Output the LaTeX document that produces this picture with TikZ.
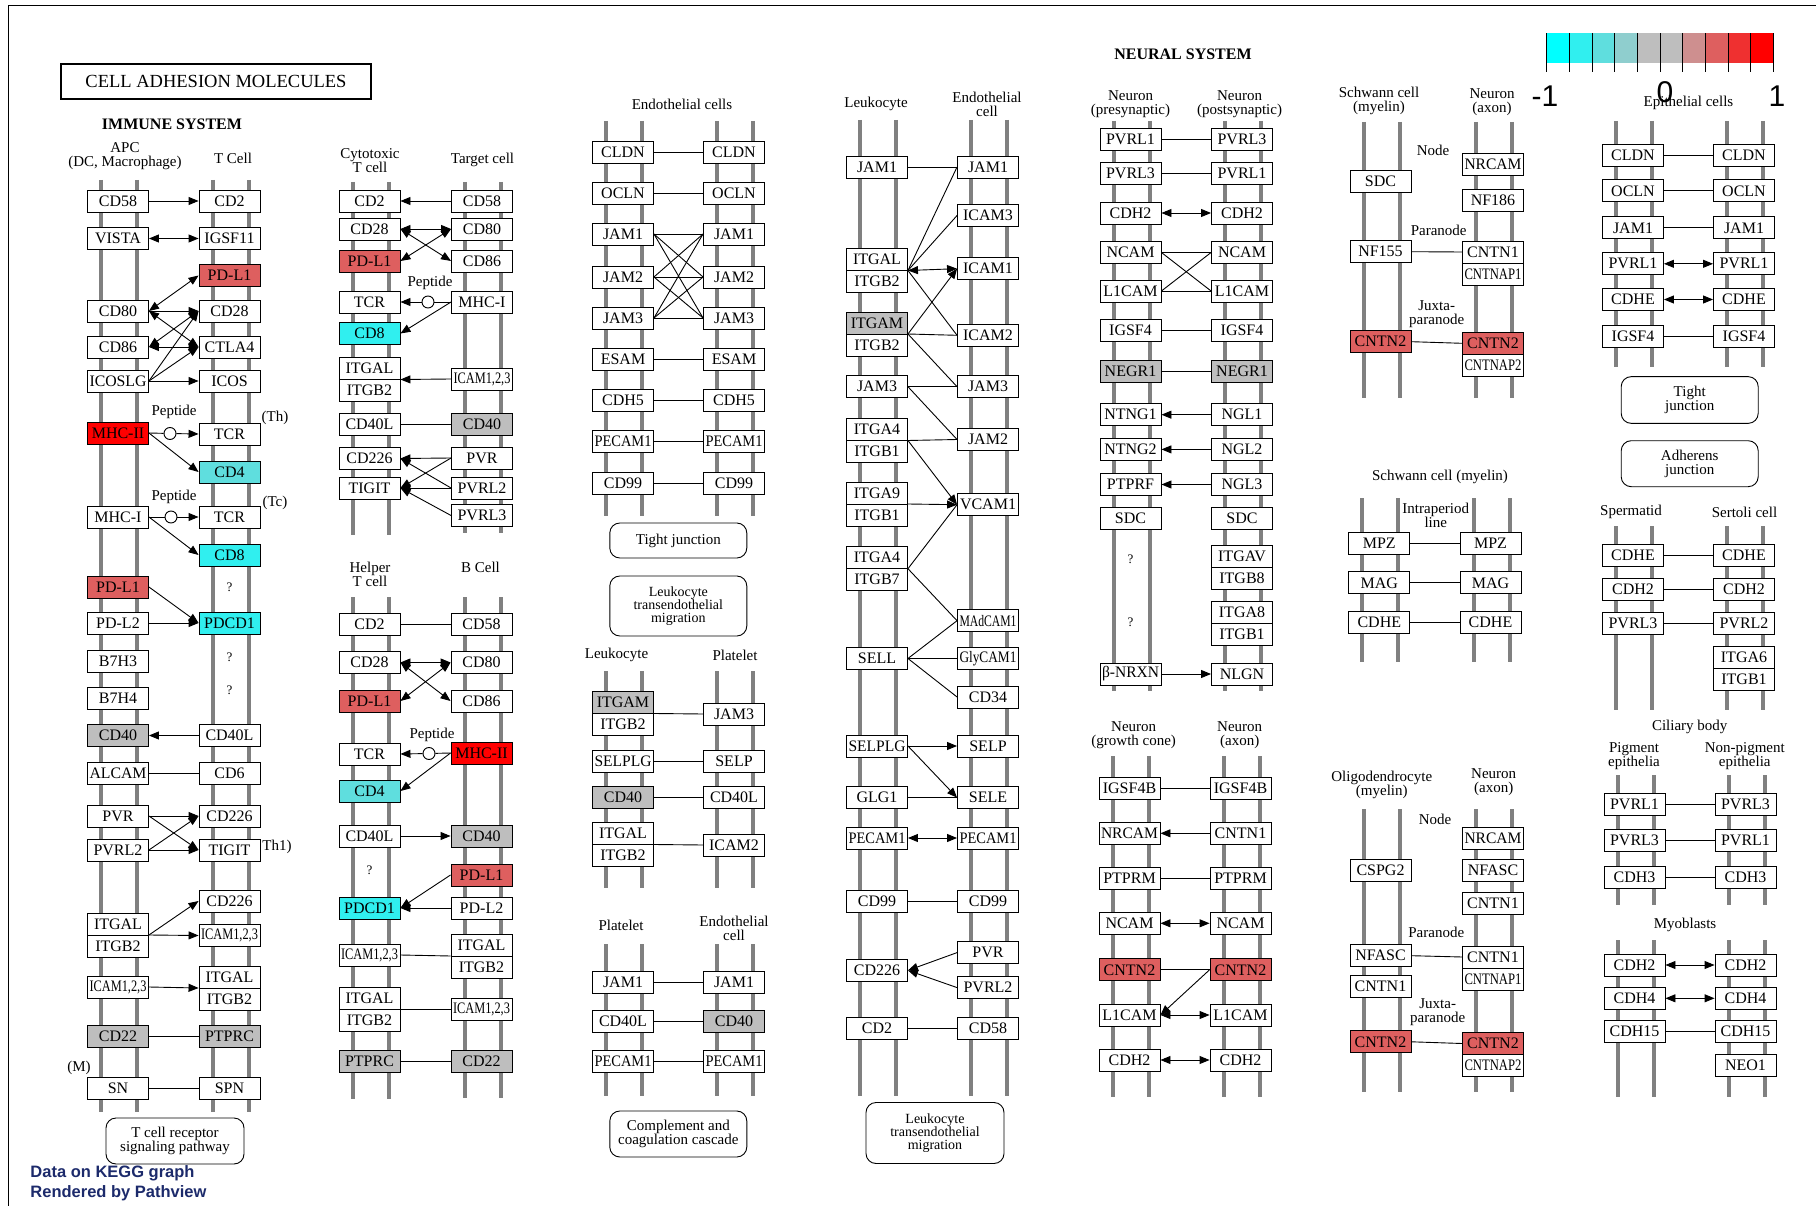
\documentclass[tikz,border=0pt]{standalone}
\usepackage{graphicx}
\usepackage{fontspec}
\setmainfont{Liberation Serif}
\newfontfamily\sansfam{Liberation Sans}
\usetikzlibrary{arrows.meta}

\definecolor{up1}{HTML}{FF0000}
\definecolor{up2}{HTML}{DE5F5F}
\definecolor{up3}{HTML}{EF3030}
\definecolor{up4}{HTML}{CE8F8F}
\definecolor{dn0}{HTML}{00FFFF}
\definecolor{dn1}{HTML}{30EFEF}
\definecolor{dn2}{HTML}{5FDEDE}
\definecolor{dn3}{HTML}{8FCECE}
\definecolor{nd}{HTML}{BEBEBE}
\definecolor{membr}{HTML}{808080}
\definecolor{navy}{HTML}{1C2A6B}

\newsavebox\gbox
\newcommand\gtext[1]{\sbox\gbox{#1}\ifdim\wd\gbox>57pt \resizebox{57pt}{\height}{#1}\else\usebox\gbox\fi}
\newcommand\gene[4][white]{\node[gene, fill=#1] (#2) at (#3) {\gtext{#4}};}
\newcommand\dimer[6][white]{%
  \node[gene, minimum height=44pt] (#2) at (#3,#4) {};
  \node[gene, fill=#1] (#2a) at (#3,#4-11) {\gtext{#5}};
  \node[gene] (#2b) at (#3,#4+11) {\gtext{#6}};}
\newcommand\membrane[3]{\draw[bar] (#1-17,#2) -- (#1-17,#3) (#1+19,#2) -- (#1+19,#3);}

\begin{document}
\begin{tikzpicture}[
        x = 1pt, y = -1pt,
        line width = 0.9pt,
        >= {Triangle[length = 10pt, width = 8pt]},
        gene/.style = {draw, fill = white, minimum width = 61pt, minimum height = 22pt,
                       inner sep = 0pt, font = \fontsize{16}{16}\selectfont},
        bar/.style = {draw = membr, line width = 4pt},
        lab/.style = {font = \fontsize{15}{14}\selectfont, align = center, inner sep = 0pt},
        note/.style = {font = \fontsize{13}{13}\selectfont, inner sep = 0pt},
        pep/.style = {circle, draw, fill = white, minimum size = 12pt, inner sep = 0pt},
        pathway/.style = {draw, rounded corners = 10pt, align = center, inner sep = 0pt,
                          font = \fontsize{15}{14}\selectfont},
        title/.style = {font = \bfseries\fontsize{16}{16}\selectfont, inner sep = 0pt},
        scalelab/.style = {font = \sansfam\fontsize{30}{30}\selectfont, inner sep = 0pt}
    ]

    \useasboundingbox (0,0) rectangle (1816,1206);
    \draw (8,1206) -- (8,5) -- (1816,5);

    \node[draw, line width = 2pt, minimum width = 310pt, minimum height = 35pt,
          font = \fontsize{18.5}{18}\selectfont] (cam) at (216,81.5) {CELL ADHESION MOLECULES};
    \node[title] (immune) at (172,124) {IMMUNE SYSTEM};
    \node[title] (neural) at (1183,54) {NEURAL SYSTEM};

    % colour key
    \fill[dn0] (1546.7,33.3) rectangle (1569.4,63.3);
    \fill[dn1] (1569.4,33.3) rectangle (1592.0,63.3);
    \fill[dn2] (1592.0,33.3) rectangle (1614.7,63.3);
    \fill[dn3] (1614.7,33.3) rectangle (1637.4,63.3);
    \fill[nd] (1637.4,33.3) rectangle (1682.7,63.3);
    \fill[up4] (1682.7,33.3) rectangle (1705.4,63.3);
    \fill[up2] (1705.4,33.3) rectangle (1728.0,63.3);
    \fill[up3] (1728.0,33.3) rectangle (1750.7,63.3);
    \fill[up1] (1750.7,33.3) rectangle (1773.4,63.3);
    \draw (1546.7,33.3) -- (1546.7,72.3) (1569.4,33.3) -- (1569.4,72.3)
          (1592.0,33.3) -- (1592.0,72.3) (1614.7,33.3) -- (1614.7,72.3)
          (1637.4,33.3) -- (1637.4,72.3) (1660.0,33.3) -- (1660.0,72.3)
          (1682.7,33.3) -- (1682.7,72.3) (1705.4,33.3) -- (1705.4,72.3)
          (1728.0,33.3) -- (1728.0,72.3) (1750.7,33.3) -- (1750.7,72.3)
          (1773.4,33.3) -- (1773.4,72.3);

    % APC and T cell
    \node[lab] (apc) at (125,156.5) {APC\\(DC, Macrophage)};
    \node[lab] (tcell) at (233,158) {T Cell};
    \membrane{118}{180}{1112}
    \membrane{229.5}{180}{1112}
    \gene{apcCD58}{118,201}{CD58}
    \gene{apcVISTA}{118,238.5}{VISTA}
    \gene{apcCD80}{118,311}{CD80}
    \gene{apcCD86}{118,347}{CD86}
    \gene{apcICOSLG}{118,381}{ICOSLG}
    \gene[up1]{apcMHCII}{118,433}{MHC-II}
    \gene{apcMHCI}{118,517}{MHC-I}
    \gene[up2]{apcPDL1}{118,587}{PD-L1}
    \gene{apcPDL2}{118,623}{PD-L2}
    \gene{apcB7H3}{118,661}{B7H3}
    \gene{apcB7H4}{118,698.5}{B7H4}
    \gene[nd]{apcCD40}{118,735.5}{CD40}
    \gene{apcALCAM}{118,773.5}{ALCAM}
    \gene{apcPVR}{118,816}{PVR}
    \gene{apcPVRL2}{118,850}{PVRL2}
    \dimer{apcITG}{118}{935}{ITGAL}{ITGB2}
    \gene{apcICAM}{118,987}{ICAM1,2,3}
    \gene[nd]{apcCD22}{118,1036}{CD22}
    \gene{apcSN}{118,1088}{SN}
    \gene{tCD2}{229.5,201}{CD2}
    \gene{tIGSF11}{229.5,238.5}{IGSF11}
    \gene[up2]{tPDL1}{229.5,275.5}{PD-L1}
    \gene{tCD28}{229.5,311}{CD28}
    \gene{tCTLA4}{229.5,347}{CTLA4}
    \gene{tICOS}{229.5,381}{ICOS}
    \gene{tTCRh}{229.5,434}{TCR}
    \gene[dn2]{tCD4}{229.5,472}{CD4}
    \gene{tTCRc}{229.5,517}{TCR}
    \gene[dn1]{tCD8}{229.5,555}{CD8}
    \gene[dn1]{tPDCD1}{229.5,623}{PDCD1}
    \gene{tCD40L}{229.5,735.5}{CD40L}
    \gene{tCD6}{229.5,773.5}{CD6}
    \gene{tCD226a}{229.5,816}{CD226}
    \gene{tTIGIT}{229.5,850}{TIGIT}
    \gene{tCD226b}{229.5,901}{CD226}
    \gene{tICAM}{229.5,935.5}{ICAM1,2,3}
    \dimer{tITG}{229.5}{988}{ITGAL}{ITGB2}
    \gene[nd]{tPTPRC}{229.5,1036}{PTPRC}
    \gene{tSPN}{229.5,1088}{SPN}
    \node[lab] (pepThLab) at (174,412) {Peptide};
    \node[lab] (pepTcLab) at (174,497) {Peptide};
    \node[pep] (pepTh) at (170,433.5) {};
    \node[pep] (pepTc) at (171,517) {};
    \node[lab] (th) at (275,418) {(Th)};
    \node[lab] (tc) at (275,503) {(Tc)};
    \node[lab] (th1) at (277,847) {Th1)};
    \node[lab] (mac) at (79,1068) {(M)};
    \node[note] (q1) at (229.5,587) {?};
    \node[note] (q2) at (229.5,657) {?};
    \node[note] (q3) at (229.5,690) {?};
    \node[pathway, minimum width = 138pt, minimum height = 46pt] (tcrpw) at (175,1141)
        {T cell receptor\\signaling pathway};

    \path
        (apcCD58.east) edge[->] (tCD2.west)
        (apcVISTA.east) edge[<->] (tIGSF11.west)
        (apcCD80.east) edge[<->] (tPDL1.west)
        (apcCD80.east) edge[->] (tCD28.west)
        (apcCD80.east) edge[<->] (tCTLA4.west)
        (apcCD86.east) edge[<->] (tCD28.west)
        (apcCD86.east) edge[<->] (tCTLA4.west)
        (apcICOSLG.east) edge[->] (tCD28.west)
        (apcICOSLG.east) edge[->] (tCTLA4.west)
        (apcICOSLG.east) edge[->] (tICOS.west)
        (apcMHCII.east) edge (pepTh)
        (pepTh) edge[->] (tTCRh.west)
        (apcMHCII.east) edge[->] (tCD4.west)
        (apcMHCI.east) edge (pepTc)
        (pepTc) edge[->] (tTCRc.west)
        (apcMHCI.east) edge[->] (tCD8.west)
        (apcPDL1.east) edge[->] (tPDCD1.west)
        (apcPDL2.east) edge[->] (tPDCD1.west)
        (tCD40L.west) edge[->] (apcCD40.east)
        (apcALCAM.east) edge (tCD6.west)
        (apcPVR.east) edge[->] (tCD226a.west)
        (apcPVR.east) edge[->] (tTIGIT.west)
        (apcPVRL2.east) edge[->] (tCD226a.west)
        (apcPVRL2.east) edge[->] (tTIGIT.west)
        (apcITG.east) edge[->] (tCD226b.west)
        (apcITG.east) edge[->] (tICAM.west)
        (apcICAM.east) edge[->] (tITG.west)
        (apcCD22.east) edge (tPTPRC.west)
        (apcSN.east) edge (tSPN.west);

    % cytotoxic T cell and target cell
    \node[lab] (ctc) at (370,160.5) {Cytotoxic\\T cell};
    \node[lab] (tgc) at (482.5,160) {Target cell};
    \membrane{369.5}{182}{535}
    \membrane{482}{182}{533}
    \gene{ctCD2}{369.5,201}{CD2}
    \gene{ctCD28}{369.5,229}{CD28}
    \gene[up2]{ctPDL1}{369.5,261}{PD-L1}
    \gene{ctTCR}{369.5,302}{TCR}
    \gene[dn1]{ctCD8}{369.5,333.5}{CD8}
    \dimer{ctITG}{369.5}{379.5}{ITGAL}{ITGB2}
    \gene{ctCD40L}{369.5,424}{CD40L}
    \gene{ctCD226}{369.5,458.5}{CD226}
    \gene{ctTIGIT}{369.5,488}{TIGIT}
    \gene{tgCD58}{482,201}{CD58}
    \gene{tgCD80}{482,229}{CD80}
    \gene{tgCD86}{482,261}{CD86}
    \gene{tgMHCI}{482,302}{MHC-I}
    \gene{tgICAM}{482,379}{ICAM1,2,3}
    \gene[nd]{tgCD40}{482,424}{CD40}
    \gene{tgPVR}{482,458}{PVR}
    \gene{tgPVRL2}{482,488}{PVRL2}
    \gene{tgPVRL3}{482,515.5}{PVRL3}
    \node[lab] (pepCtLab) at (430,283) {Peptide};
    \node[pep] (pepCt) at (428,302) {};

    \path
        (tgCD58.west) edge[->] (ctCD2.east)
        (tgCD80.west) edge[<->] (ctCD28.east)
        (tgCD86.west) edge[<->] (ctCD28.east)
        (tgCD80.west) edge[<->] (ctPDL1.east)
        (tgMHCI.west) edge (pepCt)
        (pepCt) edge[->] (ctTCR.east)
        (tgMHCI.west) edge[->] (ctCD8.east)
        (tgICAM.west) edge[->] (ctITG.east)
        (tgCD40.west) edge (ctCD40L.east)
        (tgPVR.west) edge[->] (ctCD226.east)
        (tgPVR.west) edge[->] (ctTIGIT.east)
        (tgPVRL2.west) edge[->] (ctCD226.east)
        (tgPVRL2.west) edge[->] (ctTIGIT.east)
        (tgPVRL3.west) edge[->] (ctTIGIT.east);

    % helper T cell and B cell
    \node[lab] (hlp) at (370,574) {Helper\\T cell};
    \node[lab] (bcl) at (480.5,567) {B Cell};
    \membrane{369.5}{597}{1099}
    \membrane{481.5}{597}{1098}
    \gene{hCD2}{369.5,624}{CD2}
    \gene{hCD28}{369.5,662.5}{CD28}
    \gene[up2]{hPDL1}{369.5,701}{PD-L1}
    \gene{hTCR}{369.5,754}{TCR}
    \gene[dn2]{hCD4}{369.5,791}{CD4}
    \gene{hCD40L}{369.5,836}{CD40L}
    \gene[dn1]{hPDCD1}{369.5,908}{PDCD1}
    \gene{hICAM}{369.5,955}{ICAM1,2,3}
    \dimer{hITG}{369.5}{1009}{ITGAL}{ITGB2}
    \gene[nd]{hPTPRC}{369.5,1061}{PTPRC}
    \gene{bCD58}{481.5,624}{CD58}
    \gene{bCD80}{481.5,662.5}{CD80}
    \gene{bCD86}{481.5,701}{CD86}
    \gene[up1]{bMHCII}{481.5,753}{MHC-II}
    \gene[nd]{bCD40}{481.5,836}{CD40}
    \gene[up2]{bPDL1}{481.5,875}{PD-L1}
    \gene{bPDL2}{481.5,908}{PD-L2}
    \dimer{bITG}{481.5}{956}{ITGAL}{ITGB2}
    \gene{bICAM}{481.5,1009}{ICAM1,2,3}
    \gene[nd]{bCD22}{481.5,1061}{CD22}
    \node[lab] (pepHtLab) at (432,735) {Peptide};
    \node[pep] (pepHt) at (429,753.5) {};
    \node[note] (q4) at (369.5,870) {?};

    \path
        (hCD2.east) edge (bCD58.west)
        (hCD28.east) edge[<->] (bCD80.west)
        (hCD28.east) edge[<->] (bCD86.west)
        (hPDL1.east) edge[<->] (bCD80.west)
        (bMHCII.west) edge (pepHt)
        (pepHt) edge[->] (hTCR.east)
        (bMHCII.west) edge[->] (hCD4.east)
        (hCD40L.east) edge[->] (bCD40.west)
        (bPDL1.west) edge[->] (hPDCD1.east)
        (bPDL2.west) edge[->] (hPDCD1.east)
        (hICAM.east) edge (bITG.west)
        (hITG.east) edge (bICAM.west)
        (hPTPRC.east) edge (bCD22.west);

    % endothelial cells
    \node[lab] (endo) at (682,104) {Endothelial cells};
    \membrane{623}{121}{516}
    \membrane{734}{121}{516}
    \gene{eaCLDN}{623,152}{CLDN}
    \gene{eaOCLN}{623,193}{OCLN}
    \gene{eaJAM1}{623,234}{JAM1}
    \gene{eaJAM2}{623,277}{JAM2}
    \gene{eaJAM3}{623,318}{JAM3}
    \gene{eaESAM}{623,359}{ESAM}
    \gene{eaCDH5}{623,400}{CDH5}
    \gene{eaPECAM}{623,441}{PECAM1}
    \gene{eaCD99}{623,483}{CD99}
    \gene{ebCLDN}{734,152}{CLDN}
    \gene{ebOCLN}{734,193}{OCLN}
    \gene{ebJAM1}{734,234}{JAM1}
    \gene{ebJAM2}{734,277}{JAM2}
    \gene{ebJAM3}{734,318}{JAM3}
    \gene{ebESAM}{734,359}{ESAM}
    \gene{ebCDH5}{734,400}{CDH5}
    \gene{ebPECAM}{734,441}{PECAM1}
    \gene{ebCD99}{734,483}{CD99}
    \node[pathway, minimum width = 137pt, minimum height = 35pt] (tjpw) at (678.3,540.5) {Tight junction};
    \node[pathway, minimum width = 137pt, minimum height = 60pt,
          font = \fontsize{14}{13}\selectfont] (ltpw) at (678.3,606)
        {Leukocyte\\transendothelial\\migration};

    \path
        (eaCLDN.east) edge (ebCLDN.west)
        (eaOCLN.east) edge (ebOCLN.west)
        (eaJAM1.east) edge (ebJAM1.west)
        (eaJAM1.east) edge (ebJAM2.west)
        (eaJAM1.east) edge (ebJAM3.west)
        (eaJAM2.east) edge (ebJAM1.west)
        (eaJAM2.east) edge (ebJAM2.west)
        (eaJAM2.east) edge (ebJAM3.west)
        (eaJAM3.east) edge (ebJAM1.west)
        (eaJAM3.east) edge (ebJAM2.west)
        (eaJAM3.east) edge (ebJAM3.west)
        (eaESAM.east) edge (ebESAM.west)
        (eaCDH5.east) edge (ebCDH5.west)
        (eaPECAM.east) edge (ebPECAM.west)
        (eaCD99.east) edge (ebCD99.west);

    % leukocyte and platelet
    \node[lab] (leu2) at (616.5,655) {Leukocyte};
    \node[lab] (plt) at (735,655) {Platelet};
    \membrane{623}{671}{888}
    \membrane{734}{671}{888}
    \dimer[nd]{lpITGAM}{623}{713.5}{ITGAM}{ITGB2}
    \gene{ptJAM3}{734,714}{JAM3}
    \gene{lpSELPLG}{623,761}{SELPLG}
    \gene{ptSELP}{734,761}{SELP}
    \gene[nd]{lpCD40}{623,797.6}{CD40}
    \gene{ptCD40L}{734,797.6}{CD40L}
    \dimer{lpITG}{623}{844.5}{ITGAL}{ITGB2}
    \gene{ptICAM2}{734,845}{ICAM2}

    \path
        (lpITGAM.east) edge (ptJAM3.west)
        (lpSELPLG.east) edge (ptSELP.west)
        (lpCD40.east) edge (ptCD40L.west)
        (lpITG.east) edge (ptICAM2.west);

    % platelet and endothelial cell
    \node[lab] (plt2) at (621,925.6) {Platelet};
    \node[lab] (endo3) at (734,928) {Endothelial\\cell};
    \membrane{623}{944}{1096}
    \membrane{734}{944}{1096}
    \gene{peJAM1}{623,982}{JAM1}
    \gene{peCD40L}{623,1021.6}{CD40L}
    \gene{pePECAM}{623,1061}{PECAM1}
    \gene{enJAM1}{734,982}{JAM1}
    \gene[nd]{enCD40}{734,1021.6}{CD40}
    \gene{enPECAM}{734,1061}{PECAM1}
    \node[pathway, minimum width = 137pt, minimum height = 46pt] (ccpw) at (678.3,1134)
        {Complement and\\coagulation cascade};

    \path
        (peJAM1.east) edge (enJAM1.west)
        (peCD40L.east) edge (enCD40.west)
        (pePECAM.east) edge (enPECAM.west);

    % leukocyte and endothelial cell
    \node[lab] (leu) at (876,104) {Leukocyte};
    \node[lab] (endo2) at (987,104.5) {Endothelial\\cell};
    \membrane{877}{120}{1096}
    \membrane{988}{120}{1096}
    \gene{lkJAM1}{877,167}{JAM1}
    \dimer{lkITGAL}{877}{270.5}{ITGAL}{ITGB2}
    \dimer[nd]{lkITGAM}{877}{334}{ITGAM}{ITGB2}
    \gene{lkJAM3}{877,386.7}{JAM3}
    \dimer{lkITGA4}{877}{440.5}{ITGA4}{ITGB1}
    \dimer{lkITGA9}{877}{504}{ITGA9}{ITGB1}
    \dimer{lkITGA4b}{877}{568.7}{ITGA4}{ITGB7}
    \gene{lkSELL}{877,658.5}{SELL}
    \gene{lkSELPLG}{877,746}{SELPLG}
    \gene{lkGLG1}{877,797.6}{GLG1}
    \gene{lkPECAM}{877,838}{PECAM1}
    \gene{lkCD99}{877,901}{CD99}
    \gene{lkCD226}{877,970.4}{CD226}
    \gene{lkCD2}{877,1028.4}{CD2}
    \gene{ecJAM1}{988,167}{JAM1}
    \gene{ecICAM3}{988,215.5}{ICAM3}
    \gene{ecICAM1}{988,268.7}{ICAM1}
    \gene{ecICAM2}{988,335.3}{ICAM2}
    \gene{ecJAM3}{988,386.7}{JAM3}
    \gene{ecJAM2}{988,439.5}{JAM2}
    \gene{ecVCAM1}{988,504.7}{VCAM1}
    \gene{ecMAdCAM}{988,620.7}{MAdCAM1}
    \gene{ecGlyCAM}{988,658.5}{GlyCAM1}
    \gene{ecCD34}{988,697}{CD34}
    \gene{ecSELP}{988,746}{SELP}
    \gene{ecSELE}{988,797.6}{SELE}
    \gene{ecPECAM}{988,838}{PECAM1}
    \gene{ecCD99}{988,901}{CD99}
    \gene{ecPVR}{988,952.6}{PVR}
    \gene{ecPVRL2}{988,987.6}{PVRL2}
    \gene{ecCD58}{988,1028.4}{CD58}
    \node[pathway, minimum width = 138pt, minimum height = 61pt,
          font = \fontsize{14}{13}\selectfont] (ltpw2) at (935,1133)
        {Leukocyte\\transendothelial\\migration};

    \path
        (lkJAM1.east) edge (ecJAM1.west)
        (lkITGAL.east) edge (ecJAM1.west)
        (lkITGAL.east) edge (ecICAM3.west)
        (lkITGAL.east) edge[<->] (ecICAM1.west)
        (lkITGAL.east) edge (ecICAM2.west)
        (lkITGAM.east) edge[->] (ecICAM1.west)
        (lkITGAM.east) edge (ecICAM2.west)
        (lkITGAM.east) edge (ecJAM3.west)
        (lkJAM3.east) edge (ecJAM3.west)
        (lkJAM3.east) edge (ecJAM2.west)
        (lkITGA4.east) edge (ecJAM2.west)
        (lkITGA4.east) edge[->] (ecVCAM1.west)
        (lkITGA9.east) edge[->] (ecVCAM1.west)
        (lkITGA4b.east) edge (ecVCAM1.west)
        (lkITGA4b.east) edge (ecMAdCAM.west)
        (lkSELL.east) edge (ecMAdCAM.west)
        (lkSELL.east) edge (ecGlyCAM.west)
        (lkSELL.east) edge (ecCD34.west)
        (lkSELPLG.east) edge[->] (ecSELP.west)
        (lkSELPLG.east) edge[->] (ecSELE.west)
        (lkGLG1.east) edge (ecSELE.west)
        (lkPECAM.east) edge[<->] (ecPECAM.west)
        (lkCD99.east) edge (ecCD99.west)
        (ecPVR.west) edge[->] (lkCD226.east)
        (ecPVRL2.west) edge[->] (lkCD226.east)
        (lkCD2.east) edge (ecCD58.west);

    % neuron pre- and postsynaptic
    \node[lab] (npre) at (1130.5,104) {Neuron\\(presynaptic)};
    \node[lab] (npost) at (1239.5,104) {Neuron\\(postsynaptic)};
    \membrane{1130.5}{121}{691}
    \membrane{1242}{121}{691}
    \gene{prPVRL1}{1130.5,139.7}{PVRL1}
    \gene{prPVRL3}{1130.5,173}{PVRL3}
    \gene{prCDH2}{1130.5,213}{CDH2}
    \gene{prNCAM}{1130.5,252.5}{NCAM}
    \gene{prL1CAM}{1130.5,291}{L1CAM}
    \gene{prIGSF4}{1130.5,330.5}{IGSF4}
    \gene[nd]{prNEGR1}{1130.5,371}{NEGR1}
    \gene{prNTNG1}{1130.5,414.7}{NTNG1}
    \gene{prNTNG2}{1130.5,449.4}{NTNG2}
    \gene{prPTPRF}{1130.5,484.5}{PTPRF}
    \gene{prSDC}{1130.5,518.3}{SDC}
    \gene{prNRXN}{1130.5,674}{β-NRXN}
    \gene{poPVRL3}{1242,139.7}{PVRL3}
    \gene{poPVRL1}{1242,173}{PVRL1}
    \gene{poCDH2}{1242,213}{CDH2}
    \gene{poNCAM}{1242,252.5}{NCAM}
    \gene{poL1CAM}{1242,291}{L1CAM}
    \gene{poIGSF4}{1242,330.5}{IGSF4}
    \gene[nd]{poNEGR1}{1242,371}{NEGR1}
    \gene{poNGL1}{1242,414.7}{NGL1}
    \gene{poNGL2}{1242,449.4}{NGL2}
    \gene{poNGL3}{1242,484.5}{NGL3}
    \gene{poSDC}{1242,518.3}{SDC}
    \dimer{poITGAV}{1242}{567.3}{ITGAV}{ITGB8}
    \dimer{poITGA8}{1242}{623.3}{ITGA8}{ITGB1}
    \gene{poNLGN}{1242,674}{NLGN}
    \node[note] (q5) at (1130.5,559) {?};
    \node[note] (q6) at (1130.5,622) {?};

    \path
        (prPVRL1.east) edge (poPVRL3.west)
        (prPVRL3.east) edge (poPVRL1.west)
        (prCDH2.east) edge[<->] (poCDH2.west)
        (prNCAM.east) edge (poNCAM.west)
        (prNCAM.east) edge (poL1CAM.west)
        (prL1CAM.east) edge (poNCAM.west)
        (prL1CAM.east) edge (poL1CAM.west)
        (prIGSF4.east) edge (poIGSF4.west)
        (prNEGR1.east) edge (poNEGR1.west)
        (poNGL1.west) edge[->] (prNTNG1.east)
        (poNGL2.west) edge[->] (prNTNG2.east)
        (poNGL3.west) edge[->] (prPTPRF.east)
        (prNRXN.east) edge[->] (poNLGN.west);

    % neuron growth cone and axon
    \node[lab] (ngc) at (1133.7,735) {Neuron\\(growth cone)};
    \node[lab] (nax) at (1239.7,735) {Neuron\\(axon)};
    \membrane{1129.5}{756}{1097}
    \membrane{1240.5}{756}{1097}
    \gene{gcIGSF4B}{1129.5,788.3}{IGSF4B}
    \gene{gcNRCAM}{1129.5,833.3}{NRCAM}
    \gene{gcPTPRM}{1129.5,878.3}{PTPRM}
    \gene{gcNCAM}{1129.5,923.3}{NCAM}
    \gene[up2]{gcCNTN2}{1129.5,969.8}{CNTN2}
    \gene{gcL1CAM}{1129.5,1015}{L1CAM}
    \gene{gcCDH2}{1129.5,1060}{CDH2}
    \gene{axIGSF4B}{1240.5,788.3}{IGSF4B}
    \gene{axCNTN1}{1240.5,833.3}{CNTN1}
    \gene{axPTPRM}{1240.5,878.3}{PTPRM}
    \gene{axNCAM}{1240.5,923.3}{NCAM}
    \gene[up2]{axCNTN2}{1240.5,969.8}{CNTN2}
    \gene{axL1CAM}{1240.5,1015}{L1CAM}
    \gene{axCDH2}{1240.5,1060}{CDH2}

    \path
        (gcIGSF4B.east) edge (axIGSF4B.west)
        (axCNTN1.west) edge[->] (gcNRCAM.east)
        (gcPTPRM.east) edge (axPTPRM.west)
        (gcNCAM.east) edge[<->] (axNCAM.west)
        (gcCNTN2.east) edge (axCNTN2.west)
        (axCNTN2.west) edge[->] (gcL1CAM.east)
        (gcL1CAM.east) edge[<->] (axL1CAM.west)
        (gcCDH2.east) edge[<->] (axCDH2.west);

    % Schwann cell and axon
    \node[lab] (schw) at (1379,101) {Schwann cell\\(myelin)};
    \node[lab] (nax2) at (1492,102.5) {Neuron\\(axon)};
    \membrane{1380.5}{122}{398}
    \membrane{1493}{122}{398}
    \node[lab] (node1) at (1433,150) {Node};
    \node[lab] (para1) at (1438.7,230) {Paranode};
    \node[lab] (juxta1) at (1436.7,314) {Juxta-\\paranode};
    \gene{swSDC}{1380.5,181.3}{SDC}
    \gene{swNF155}{1380.5,251.7}{NF155}
    \gene[up2]{swCNTN2}{1380.5,341.7}{CNTN2}
    \gene{saNRCAM}{1493,164.2}{NRCAM}
    \gene{saNF186}{1493,200.3}{NF186}
    \dimer{saCNTN1}{1493}{263}{CNTN1}{CNTNAP1}
    \dimer[up2]{saCNTN2}{1493}{354.3}{CNTN2}{CNTNAP2}

    \path
        (swNF155.east) edge (saCNTN1a.west)
        (swCNTN2.east) edge (saCNTN2a.west);

    % Schwann cell intraperiod line
    \node[lab] (schw2) at (1440,476.7) {Schwann cell (myelin)};
    \membrane{1379.3}{498}{662}
    \membrane{1490.5}{498}{662}
    \node[lab] (ipl) at (1435.8,515.6) {Intraperiod\\line};
    \gene{ipMPZa}{1379.3,543}{MPZ}
    \gene{ipMAGa}{1379.3,582.8}{MAG}
    \gene{ipCDHEa}{1379.3,622}{CDHE}
    \gene{ipMPZb}{1490.5,543}{MPZ}
    \gene{ipMAGb}{1490.5,582.8}{MAG}
    \gene{ipCDHEb}{1490.5,622}{CDHE}

    \path
        (ipMPZa.east) edge (ipMPZb.west)
        (ipMAGa.east) edge (ipMAGb.west)
        (ipCDHEa.east) edge (ipCDHEb.west);

    % oligodendrocyte and axon
    \node[lab] (oligo) at (1381.8,785) {Oligodendrocyte\\(myelin)};
    \node[lab] (nax3) at (1493.7,782) {Neuron\\(axon)};
    \membrane{1380.5}{809}{1092}
    \membrane{1493}{809}{1092}
    \node[lab] (node2) at (1435,819.4) {Node};
    \node[lab] (para2) at (1436.3,932.8) {Paranode};
    \node[lab] (juxta2) at (1437.7,1012.5) {Juxta-\\paranode};
    \gene{olCSPG2}{1380.5,870.5}{CSPG2}
    \gene{olNFASC}{1380.5,955.7}{NFASC}
    \gene{olCNTN1}{1380.5,986.3}{CNTN1}
    \gene[up2]{olCNTN2}{1380.5,1041.8}{CNTN2}
    \gene{oaNRCAM}{1493,838.4}{NRCAM}
    \gene{oaNFASC}{1493,870.5}{NFASC}
    \gene{oaCNTN1}{1493,903.6}{CNTN1}
    \dimer{oaCNTN1b}{1493}{968}{CNTN1}{CNTNAP1}
    \dimer[up2]{oaCNTN2}{1493}{1054.5}{CNTN2}{CNTNAP2}

    \path
        (olNFASC.east) edge (oaCNTN1ba.west)
        (olCNTN2.east) edge (oaCNTN2a.west);

    % epithelial cells
    \node[lab] (epi) at (1688.5,103.3) {Epithelial cells};
    \membrane{1633}{121}{367}
    \membrane{1744}{121}{367}
    \gene{epCLDNa}{1633,155}{CLDN}
    \gene{epOCLNa}{1633,190.8}{OCLN}
    \gene{epJAM1a}{1633,227.8}{JAM1}
    \gene{epPVRL1a}{1633,263.8}{PVRL1}
    \gene{epCDHEa}{1633,299.5}{CDHE}
    \gene{epIGSF4a}{1633,336.7}{IGSF4}
    \gene{epCLDNb}{1744,155}{CLDN}
    \gene{epOCLNb}{1744,190.8}{OCLN}
    \gene{epJAM1b}{1744,227.8}{JAM1}
    \gene{epPVRL1b}{1744,263.8}{PVRL1}
    \gene{epCDHEb}{1744,299.5}{CDHE}
    \gene{epIGSF4b}{1744,336.7}{IGSF4}
    \node[pathway, minimum width = 137pt, minimum height = 46.7pt] (tjpw2) at (1689.7,400) {Tight\\junction};
    \node[pathway, minimum width = 137pt, minimum height = 46pt] (ajpw) at (1689.7,463.7) {Adherens\\junction};

    \path
        (epCLDNa.east) edge (epCLDNb.west)
        (epOCLNa.east) edge (epOCLNb.west)
        (epJAM1a.east) edge (epJAM1b.west)
        (epPVRL1a.east) edge[<->] (epPVRL1b.west)
        (epCDHEa.east) edge[<->] (epCDHEb.west)
        (epIGSF4a.east) edge (epIGSF4b.west);

    % spermatid and Sertoli cell
    \node[lab] (sprm) at (1631,511.7) {Spermatid};
    \node[lab] (srt) at (1744.5,512) {Sertoli cell};
    \membrane{1633}{526}{710}
    \membrane{1744}{526}{710}
    \gene{spCDHE}{1633,555}{CDHE}
    \gene{spCDH2}{1633,589.3}{CDH2}
    \gene{spPVRL3}{1633,623}{PVRL3}
    \gene{seCDHE}{1744,555}{CDHE}
    \gene{seCDH2}{1744,589.3}{CDH2}
    \gene{sePVRL2}{1744,623}{PVRL2}
    \dimer{seITGA6}{1744}{668.7}{ITGA6}{ITGB1}

    \path
        (spCDHE.east) edge (seCDHE.west)
        (spCDH2.east) edge (seCDH2.west)
        (spPVRL3.east) edge (sePVRL2.west);

    % ciliary body
    \node[lab] (cil) at (1689.7,726.8) {Ciliary body};
    \node[lab] (pig) at (1634,756) {Pigment\\epithelia};
    \node[lab] (npig) at (1744.8,756) {Non-pigment\\epithelia};
    \membrane{1634.5}{775}{905}
    \membrane{1745.5}{775}{905}
    \gene{pgPVRL1}{1634.5,804}{PVRL1}
    \gene{pgPVRL3}{1634.5,840.4}{PVRL3}
    \gene{pgCDH3}{1634.5,877.5}{CDH3}
    \gene{npPVRL3}{1745.5,804}{PVRL3}
    \gene{npPVRL1}{1745.5,840.4}{PVRL1}
    \gene{npCDH3}{1745.5,877.5}{CDH3}

    \path
        (pgPVRL1.east) edge (npPVRL3.west)
        (pgPVRL3.east) edge (npPVRL1.west)
        (pgCDH3.east) edge (npCDH3.west);

    % myoblasts
    \node[lab] (myo) at (1685,924.5) {Myoblasts};
    \membrane{1634.5}{940}{1097}
    \membrane{1745.5}{940}{1097}
    \gene{myCDH2a}{1634.5,965}{CDH2}
    \gene{myCDH4a}{1634.5,998.3}{CDH4}
    \gene{myCDH15a}{1634.5,1031}{CDH15}
    \gene{myCDH2b}{1745.5,965}{CDH2}
    \gene{myCDH4b}{1745.5,998.3}{CDH4}
    \gene{myCDH15b}{1745.5,1031}{CDH15}
    \gene{myNEO1}{1745.5,1065.2}{NEO1}

    \path
        (myCDH2a.east) edge[<->] (myCDH2b.west)
        (myCDH4a.east) edge[<->] (myCDH4b.west)
        (myCDH15a.east) edge (myCDH15b.west);

    % key labels and credit
    \node[scalelab] (kmin) at (1545,96) {-1};
    \node[scalelab] (kmid) at (1665,92) {0};
    \node[scalelab] (kmax) at (1777,96) {1};
    \node[font = \sansfam\bfseries\fontsize{16.5}{20}\selectfont, text = navy, align = left,
          anchor = north west, inner sep = 0pt] (credit) at (30,1165)
        {Data on KEGG graph\\Rendered by Pathview};

\end{tikzpicture}
\end{document}
